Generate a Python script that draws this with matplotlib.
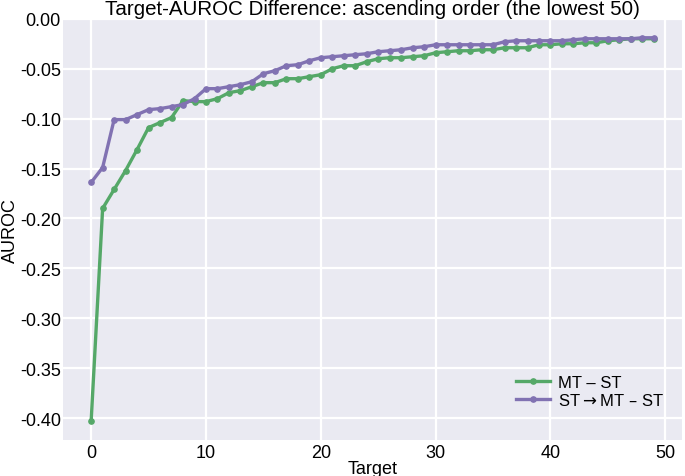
import matplotlib
matplotlib.use("Agg")
import matplotlib.pyplot as plt
import numpy as np

# values (lowest 50 targets, ascending order)
targets = np.arange(50)

mt_minus_st = [
    -0.403, -0.190, -0.171, -0.152, -0.131, -0.109, -0.104, -0.099, -0.082, -0.083,
    -0.083, -0.080, -0.074, -0.072, -0.068, -0.064, -0.064, -0.060, -0.060, -0.058,
    -0.056, -0.050, -0.047, -0.047, -0.043, -0.040, -0.039, -0.039, -0.038, -0.037,
    -0.034, -0.033, -0.032, -0.032, -0.031, -0.031, -0.029, -0.029, -0.029, -0.026,
    -0.026, -0.025, -0.025, -0.024, -0.024, -0.022, -0.021, -0.020, -0.020, -0.020,
]

st_mt_minus_st = [
    -0.164, -0.149, -0.101, -0.101, -0.096, -0.091, -0.090, -0.088, -0.086, -0.080,
    -0.070, -0.070, -0.068, -0.066, -0.063, -0.055, -0.052, -0.047, -0.046, -0.042,
    -0.039, -0.038, -0.037, -0.036, -0.035, -0.033, -0.032, -0.031, -0.029, -0.028,
    -0.026, -0.026, -0.026, -0.026, -0.026, -0.026, -0.023, -0.022, -0.022, -0.022,
    -0.022, -0.022, -0.021, -0.020, -0.020, -0.020, -0.020, -0.020, -0.019, -0.019,
]

series_labels = ["MT \u2013 ST", "ST$\\rightarrow$MT \u2013 ST"]
series_colors = ["#55a868", "#8172b2"]

x_ticks = [0, 10, 20, 30, 40, 50]
y_ticks = [-0.40, -0.35, -0.30, -0.25, -0.20, -0.15, -0.10, -0.05, 0.00]

plt.rcParams["font.family"] = ["Liberation Sans", "DejaVu Sans"]
plt.rcParams["axes.unicode_minus"] = False

fig = plt.figure(figsize=(6.85, 4.77), dpi=100)
ax = fig.add_axes([0.092, 0.0755, 0.9036, 0.883])
ax.set_facecolor("#EAEAF2")
for spine in ax.spines.values():
    spine.set_visible(False)
ax.grid(True, color="white", linewidth=1.6)
ax.set_axisbelow(True)
ax.tick_params(length=0, labelsize=13)
ax.tick_params(axis="y", pad=1.5)
ax.tick_params(axis="x", pad=3)

for values, label, color in zip([mt_minus_st, st_mt_minus_st], series_labels, series_colors):
    ax.plot(targets, values, color=color, linewidth=2.4, marker="o", markersize=3.8, label=label)

ax.set_xticks(x_ticks)
ax.set_yticks(y_ticks)
ax.set_yticklabels([f"{v:.2f}" for v in y_ticks])
ax.set_xlim(-2.45, 51.45)
ax.set_ylim(-0.422, 0.0)

ax.set_title("Target-AUROC Difference: ascending order (the lowest 50)", fontsize=14.8, pad=3.5)
ax.set_xlabel("Target", fontsize=13, labelpad=-1)
ax.set_ylabel("AUROC", fontsize=13, labelpad=1)

ax.legend(loc="lower right", frameon=False, fontsize=12, handlelength=2.0,
          handletextpad=0.5, labelspacing=0.15, bbox_to_anchor=(0.995, 0.04))

fig.savefig("out.png", dpi=100)
plt.close(fig)
